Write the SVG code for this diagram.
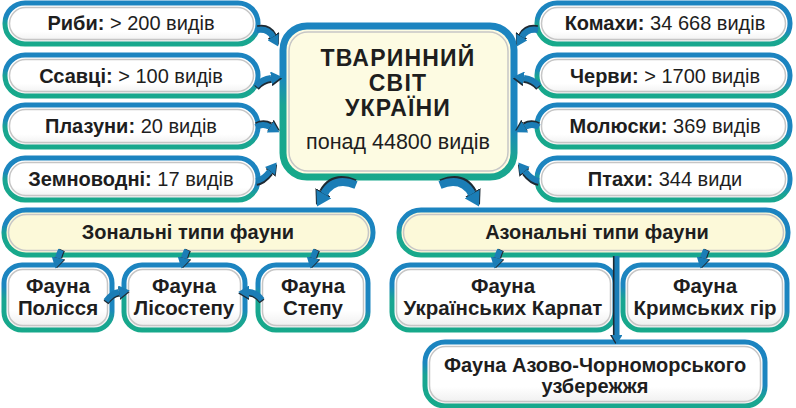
<svg xmlns="http://www.w3.org/2000/svg" xmlns:xlink="http://www.w3.org/1999/xlink" width="796" height="408" viewBox="0 0 796 408">
<defs>
<linearGradient id="bd" x1="0" y1="1" x2="0.35" y2="0">
<stop offset="0" stop-color="#17a98a"/><stop offset="0.42" stop-color="#19a592"/><stop offset="0.6" stop-color="#1c86bf"/><stop offset="1" stop-color="#1c84c0"/>
</linearGradient>
<linearGradient id="wf" x1="0" y1="0" x2="0" y2="1">
<stop offset="0" stop-color="#ffffff"/><stop offset="0.7" stop-color="#ffffff"/><stop offset="1" stop-color="#ececec"/>
</linearGradient>
<marker id="mb" viewBox="0 -6 10 12" refX="0" refY="0" markerWidth="1.8" markerHeight="2.16" orient="auto" markerUnits="strokeWidth"><path d="M0,-6 L10,0 L0,6 Z" fill="#1b7db6"/></marker>
<marker id="md" viewBox="0 -6 10 12" refX="0" refY="0" markerWidth="1.8" markerHeight="2.16" orient="auto" markerUnits="strokeWidth"><path d="M0,-6 L10,0 L0,6 Z" fill="#1e2a33"/></marker>
<path id="p1" d="M257,30 Q268,28 273,37"/>
<path id="p2" d="M256,86 Q262,79 271,78"/>
<path id="p3" d="M256,127 Q263,123 270,127"/>
<path id="p4" d="M256,181 Q263,180 270,171"/>
<path id="p5" d="M538,30 Q527,28 522,37"/>
<path id="p6" d="M539,86 Q533,79 524,78"/>
<path id="p7" d="M539,127 Q532,123 525,127"/>
<path id="p8" d="M539,181 Q532,180 525,171"/>
<path id="p9" d="M356,185 Q334,176 324,194"/>
<path id="p10" d="M440,185 Q462,176 472,194"/>
<path id="p11" d="M61,250 Q59,254 58,258"/>
<path id="p12" d="M187,250 Q185,254 184,258"/>
<path id="p13" d="M316,250 Q314,254 313,258"/>
<path id="p14" d="M500,250 Q498,254 497,258"/>
<path id="p15" d="M706,250 Q704,254 703,258"/>
<path id="p16" d="M617,256 L617,335"/>
<path id="p17" d="M106,301 Q112,293 119,292"/>
<path id="p18" d="M262,300 Q256,292 249,292"/>
</defs>
<style>
.b{fill:url(#wf);stroke:url(#bd);stroke-width:5}
.y{fill:#fcf9d9;stroke:url(#bd);stroke-width:5}
.c{fill:#fdfbe2;stroke:url(#bd);stroke-width:7}
.i{fill:none;stroke:#c6c6c6;stroke-width:1.5}
text{font-family:"Liberation Sans",Arial,sans-serif;fill:#1e1e1e;text-anchor:middle}
.t{font-size:20px}
.f{font-size:20.5px;font-weight:bold}
.bo{font-weight:bold}
.h{font-size:23px;font-weight:bold;letter-spacing:1.2px}
.sh{fill:none;stroke:#1e2a33;marker-end:url(#md)}
.ar{fill:none;stroke:#1b7db6;marker-end:url(#mb)}
</style>

<g id="riby"><rect class="b" x="5" y="3" width="253" height="41" rx="20"/><rect class="i" x="9.5" y="7.5" width="244" height="32" rx="16"/><text class="t" x="131" y="29.5"><tspan class="bo">Риби:</tspan> &gt; 200 видів</text></g>
<g id="ssavtsi"><rect class="b" x="5" y="55" width="253" height="41" rx="20"/><rect class="i" x="9.5" y="59.5" width="244" height="32" rx="16"/><text class="t" x="131" y="82.5"><tspan class="bo">Ссавці:</tspan> &gt; 100 видів</text></g>
<g id="plazuny"><rect class="b" x="5" y="105" width="253" height="42" rx="20"/><rect class="i" x="9.5" y="109.5" width="244" height="33" rx="16"/><text class="t" x="131" y="133"><tspan class="bo">Плазуни:</tspan> 20 видів</text></g>
<g id="zemnovodni"><rect class="b" x="5" y="158" width="253" height="42" rx="20"/><rect class="i" x="9.5" y="162.5" width="244" height="33" rx="16"/><text class="t" x="131" y="186"><tspan class="bo">Земноводні:</tspan> 17 видів</text></g>

<g id="komakhy"><rect class="b" x="537" y="3" width="253" height="41" rx="20"/><rect class="i" x="541.5" y="7.5" width="244" height="32" rx="16"/><text class="t" x="665" y="29.5"><tspan class="bo">Комахи:</tspan> 34 668 видів</text></g>
<g id="chervy"><rect class="b" x="537" y="55" width="253" height="41" rx="20"/><rect class="i" x="541.5" y="59.5" width="244" height="32" rx="16"/><text class="t" x="665" y="82.5"><tspan class="bo">Черви:</tspan> &gt; 1700 видів</text></g>
<g id="moliusky"><rect class="b" x="537" y="105" width="253" height="42" rx="20"/><rect class="i" x="541.5" y="109.5" width="244" height="33" rx="16"/><text class="t" x="665" y="133"><tspan class="bo">Молюски:</tspan> 369 видів</text></g>
<g id="ptakhy"><rect class="b" x="537" y="158" width="253" height="42" rx="20"/><rect class="i" x="541.5" y="162.5" width="244" height="33" rx="16"/><text class="t" x="665" y="186"><tspan class="bo">Птахи:</tspan> 344 види</text></g>

<g id="center"><rect class="c" x="283" y="26" width="231" height="151" rx="24"/><rect class="i" x="289" y="32" width="219" height="139" rx="19"/>
<text class="h" x="398" y="66">ТВАРИННИЙ</text><text class="h" x="398" y="91">СВІТ</text><text class="h" x="398" y="116">УКРАЇНИ</text>
<text x="398" y="149" style="font-size:21.5px">понад 44800 видів</text></g>

<g id="zonal"><rect class="y" x="4" y="210" width="369" height="45" rx="22"/><rect class="i" x="8.5" y="214.5" width="360" height="36" rx="18"/><text class="t bo" x="188" y="239">Зональні типи фауни</text></g>
<g id="azonal"><rect class="y" x="399" y="210" width="389" height="45" rx="22"/><rect class="i" x="403.5" y="214.5" width="380" height="36" rx="18"/><text class="t bo" x="597" y="239">Азональні типи фауни</text></g>

<g id="polissia"><rect class="b" x="4" y="265" width="108" height="65" rx="18"/><rect class="i" x="8.5" y="269.5" width="99" height="56" rx="14"/><text class="f" x="58" y="293">Фауна</text><text class="f" x="58" y="314.5">Полісся</text></g>
<g id="lisostep"><rect class="b" x="124" y="265" width="121" height="65" rx="18"/><rect class="i" x="128.5" y="269.5" width="112" height="56" rx="14"/><text class="f" x="184" y="293">Фауна</text><text class="f" x="184" y="314.5">Лісостепу</text></g>
<g id="step"><rect class="b" x="258" y="265" width="110" height="65" rx="18"/><rect class="i" x="262.5" y="269.5" width="101" height="56" rx="14"/><text class="f" x="313" y="293">Фауна</text><text class="f" x="313" y="314.5">Степу</text></g>
<g id="karpaty"><rect class="b" x="392" y="265" width="223" height="65" rx="18"/><rect class="i" x="396.5" y="269.5" width="214" height="56" rx="14"/><text class="f" x="503" y="293">Фауна</text><text class="f" x="503" y="314.5">Українських Карпат</text></g>
<g id="krym"><rect class="b" x="623" y="265" width="164" height="65" rx="18"/><rect class="i" x="627.5" y="269.5" width="155" height="56" rx="14"/><text class="f" x="705" y="293">Фауна</text><text class="f" x="705" y="314.5">Кримських гір</text></g>
<g id="azov"><rect class="b" x="425" y="342" width="340" height="64" rx="20"/><rect class="i" x="429.5" y="346.5" width="331" height="55" rx="16"/><text class="t bo" x="595" y="372">Фауна Азово-Чорноморського</text><text class="t bo" x="595" y="393">узбережжя</text></g>

<g id="connectors">
<g style="stroke-width:6">
<use xlink:href="#p1" class="sh" transform="translate(0.5,-1.8)"/><use xlink:href="#p1" class="ar"/>
<use xlink:href="#p2" class="sh" transform="translate(0.5,1.8)"/><use xlink:href="#p2" class="ar"/>
<use xlink:href="#p3" class="sh" transform="translate(0.5,-1.8)"/><use xlink:href="#p3" class="ar"/>
<use xlink:href="#p4" class="sh" transform="translate(0.5,1.8)"/><use xlink:href="#p4" class="ar"/>
<use xlink:href="#p5" class="sh" transform="translate(-0.5,-1.8)"/><use xlink:href="#p5" class="ar"/>
<use xlink:href="#p6" class="sh" transform="translate(-0.5,1.8)"/><use xlink:href="#p6" class="ar"/>
<use xlink:href="#p7" class="sh" transform="translate(-0.5,-1.8)"/><use xlink:href="#p7" class="ar"/>
<use xlink:href="#p8" class="sh" transform="translate(-0.5,1.8)"/><use xlink:href="#p8" class="ar"/>
</g>
<g style="stroke-width:8">
<use xlink:href="#p9" class="sh" transform="translate(-1,-1.8)"/><use xlink:href="#p9" class="ar"/>
<use xlink:href="#p10" class="sh" transform="translate(1,-1.8)"/><use xlink:href="#p10" class="ar"/>
</g>
<g style="stroke-width:6">
<use xlink:href="#p11" class="sh" transform="translate(1.2,0)"/><use xlink:href="#p11" class="ar"/>
<use xlink:href="#p12" class="sh" transform="translate(1.2,0)"/><use xlink:href="#p12" class="ar"/>
<use xlink:href="#p13" class="sh" transform="translate(1.2,0)"/><use xlink:href="#p13" class="ar"/>
<use xlink:href="#p14" class="sh" transform="translate(1.2,0)"/><use xlink:href="#p14" class="ar"/>
<use xlink:href="#p15" class="sh" transform="translate(1.2,0)"/><use xlink:href="#p15" class="ar"/>
<use xlink:href="#p17" class="sh" transform="translate(0,1.5)"/><use xlink:href="#p17" class="ar"/>
<use xlink:href="#p18" class="sh" transform="translate(0,1.5)"/><use xlink:href="#p18" class="ar"/>
</g>
<g style="stroke-width:5">
<use xlink:href="#p16" class="sh" transform="translate(-1.6,0)"/><use xlink:href="#p16" class="ar"/>
</g>
</g>
</svg>
